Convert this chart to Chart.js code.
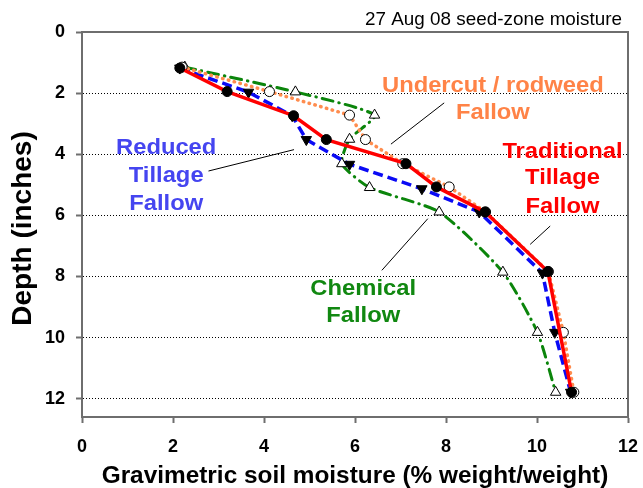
<!DOCTYPE html>
<html><head><meta charset="utf-8">
<script src="https://cdn.jsdelivr.net/npm/chart.js@4.4.0/dist/chart.umd.min.js"></script>
<style>html,body{margin:0;padding:0;background:#fff}canvas{display:block}</style>
</head><body>
<canvas id="c" width="643" height="488"></canvas>
<script>
// ---- text ----
const chartTitle = '27 Aug 08 seed-zone moisture';
const xTitle = 'Gravimetric soil moisture (% weight/weight)';
const yTitle = 'Depth (inches)';
const xTicks = [0, 2, 4, 6, 8, 10, 12];
const yTicks = [0, 2, 4, 6, 8, 10, 12];

// ---- data (moisture %, depth inches) ----
const traditionalX     = [2.15, 3.19, 4.65, 5.37, 7.12, 7.79, 8.86, 10.24, 10.76];
const traditionalDepth = [1.18, 1.95, 2.74, 3.52, 4.31, 5.07, 5.89, 7.84, 11.79];

const undercutX     = [2.20, 4.12, 5.88, 6.23, 7.05, 8.07, 8.87, 10.25, 10.58, 10.81];
const undercutDepth = [1.15, 1.95, 2.72, 3.52, 4.31, 5.07, 5.89, 7.84, 9.83, 11.79];

const reducedX     = [2.15, 3.66, 4.62, 4.93, 5.88, 7.47, 8.73, 10.12, 10.39, 10.74];
const reducedDepth = [1.18, 1.97, 2.74, 3.52, 4.33, 5.13, 5.89, 7.89, 9.83, 11.79];

const chemicalX     = [2.26, 4.69, 6.43, 5.88, 5.71, 6.32, 7.85, 9.25, 10.01, 10.41];
const chemicalDepth = [1.15, 1.96, 2.72, 3.51, 4.31, 5.09, 5.89, 7.86, 9.83, 11.79];

const pts = (xs, ys) => xs.map((v, i) => ({x: v, y: ys[i]}));

const FONT = "'Liberation Sans', Arial, Helvetica, sans-serif";
const AXIS = '#6e6e6e';

// annotations (in data units)
const labels = [
  {lines: ['Undercut / rodweed', 'Fallow'], color: '#FF8347', x: 9.03, y: [1.97, 2.86]},
  {lines: ['Traditional', 'Tillage', 'Fallow'], color: '#FF0000', x: 10.56, y: [4.11, 4.98, 5.92]},
  {lines: ['Reduced', 'Tillage', 'Fallow'], color: '#4545F0', x: 1.85, y: [3.98, 4.91, 5.81]},
  {lines: ['Chemical', 'Fallow'], color: '#118811', x: 6.18, y: [8.62, 9.48]}
];
const leaders = [
  [7.96, 2.32, 6.79, 3.67],
  [2.78, 4.55, 4.66, 3.85],
  [10.29, 6.35, 9.85, 6.95],
  [7.60, 6.11, 6.59, 7.80]
];

const annot = {
  id: 'annot',
  afterDraw(chart) {
    const {ctx, chartArea: a, scales: {x, y}} = chart;
    ctx.save();
    // frame (top & right)
    ctx.strokeStyle = AXIS; ctx.lineWidth = 2;
    ctx.beginPath();
    ctx.moveTo(a.left - 1, a.top); ctx.lineTo(a.right, a.top); ctx.lineTo(a.right, a.bottom + 1);
    ctx.stroke();
    // leader lines
    ctx.strokeStyle = '#000'; ctx.lineWidth = 1;
    leaders.forEach(l => {
      ctx.beginPath();
      ctx.moveTo(x.getPixelForValue(l[0]), y.getPixelForValue(l[1]));
      ctx.lineTo(x.getPixelForValue(l[2]), y.getPixelForValue(l[3]));
      ctx.stroke();
    });
    // series labels
    ctx.textAlign = 'center'; ctx.textBaseline = 'alphabetic';
    ctx.font = 'bold 22px ' + FONT;
    labels.forEach(lb => {
      ctx.fillStyle = lb.color;
      lb.lines.forEach((t, i) => {
        ctx.save();
        ctx.translate(x.getPixelForValue(lb.x), y.getPixelForValue(lb.y[i]));
        ctx.scale(1.08, 1);
        ctx.fillText(t, 0, 0);
        ctx.restore();
      });
    });
    // chart title
    ctx.fillStyle = '#000';
    ctx.font = '18.5px ' + FONT;
    ctx.textAlign = 'right';
    ctx.save(); ctx.translate(a.right - 6, 25); ctx.scale(1.02, 1); ctx.fillText(chartTitle, 0, 0); ctx.restore();
    // x title
    ctx.font = 'bold 23px ' + FONT;
    ctx.textAlign = 'center';
    ctx.save(); ctx.translate((a.left + a.right) / 2, 483); ctx.scale(1.06, 1);
    ctx.fillText(xTitle, 0, 0); ctx.restore();
    // y title
    ctx.font = 'bold 28px ' + FONT;
    ctx.save(); ctx.translate(31, (a.top + a.bottom) / 2 + 4); ctx.rotate(-Math.PI / 2);
    ctx.fillText(yTitle, 0, 0); ctx.restore();
    ctx.restore();
  }
};

const tickFont = {family: FONT, size: 18, weight: 'bold'};

new Chart(document.getElementById('c'), {
  type: 'scatter',
  data: {
    datasets: [
      {
        label: 'Traditional Tillage Fallow', data: pts(traditionalX, traditionalDepth), order: 0,
        showLine: true, borderColor: '#FF0000', borderWidth: 3.5, tension: 0,
        pointStyle: 'circle', pointRadius: 5, pointBackgroundColor: '#000', pointBorderColor: '#000', pointBorderWidth: 1
      },
      {
        label: 'Undercut / rodweed Fallow', data: pts(undercutX, undercutDepth), order: 1,
        showLine: true, borderColor: '#FF8C4E', borderWidth: 3.5, borderDash: [0.5, 5.5], borderCapStyle: 'round', tension: 0,
        pointStyle: 'circle', pointRadius: 5, pointBackgroundColor: '#fff', pointBorderColor: '#000', pointBorderWidth: 1
      },
      {
        label: 'Reduced Tillage Fallow', data: pts(reducedX, reducedDepth), order: 2,
        showLine: true, borderColor: '#0A0AF5', borderWidth: 3.5, borderDash: [10, 5], tension: 0,
        pointStyle: 'triangle', rotation: 180, pointRadius: 6, pointBackgroundColor: '#000', pointBorderColor: '#000', pointBorderWidth: 1
      },
      {
        label: 'Chemical Fallow', data: pts(chemicalX, chemicalDepth), order: 3,
        showLine: true, borderColor: '#0B850B', borderWidth: 3, borderDash: [11, 6, 0.5, 6], borderCapStyle: 'round', tension: 0.2,
        pointStyle: 'triangle', pointRadius: 6, pointBackgroundColor: '#fff', pointBorderColor: '#000', pointBorderWidth: 1
      }
    ]
  },
  options: {
    responsive: false, animation: false,
    layout: {padding: {top: 32, right: 15, left: 0, bottom: 0}},
    plugins: {legend: {display: false}, tooltip: {enabled: false}, title: {display: false}},
    scales: {
      x: {
        type: 'linear', min: 0, max: 12,
        afterBuildTicks: s => { s.ticks = xTicks.map(v => ({value: v})); },
        afterFit: s => { s.height = 71; s.paddingLeft = 0; s.paddingRight = 0; },
        ticks: {font: tickFont, color: '#000', padding: 13, maxRotation: 0},
        grid: {drawOnChartArea: false, drawTicks: true, tickLength: 6, tickColor: AXIS, tickWidth: 2},
        border: {color: AXIS, width: 2}
      },
      y: {
        type: 'linear', reverse: true, min: 0, max: 12.6,
        afterBuildTicks: s => { s.ticks = yTicks.map(v => ({value: v})); },
        afterFit: s => { s.width = 82; s.paddingTop = 0; s.paddingBottom = 0; },
        ticks: {font: tickFont, color: '#000', padding: 11},
        grid: {color: '#000', lineWidth: 1, tickLength: 6, tickColor: AXIS, tickWidth: 2, tickBorderDash: []},
        border: {color: AXIS, width: 2, dash: [1, 2]}
      }
    }
  },
  plugins: [annot]
});
</script>
</body></html>
